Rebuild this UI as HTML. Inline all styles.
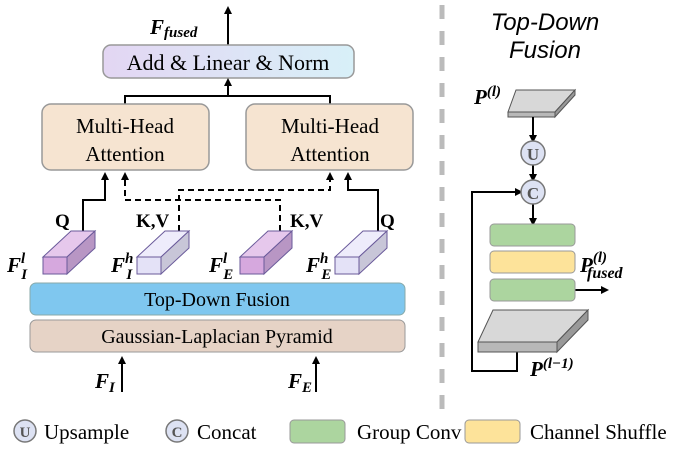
<!DOCTYPE html><html><head><style>html,body{margin:0;padding:0;background:#fff}svg{display:block}</style></head><body>
<svg width="680" height="458" viewBox="0 0 680 458" xmlns="http://www.w3.org/2000/svg" font-family="Liberation Serif, serif">
<defs>
<marker id="a" markerWidth="8" markerHeight="8" refX="4" refY="4" orient="auto" markerUnits="userSpaceOnUse"><path d="M0,0 L8,4 L0,8 z" fill="#000"/></marker>
<linearGradient id="g1" x1="0" x2="1"><stop offset="0" stop-color="#e3d6f3"/><stop offset="1" stop-color="#d8f0f8"/></linearGradient>
</defs>
<text x="150" y="34" font-size="21" font-weight="bold" font-style="italic">F<tspan font-size="15" dy="3">fused</tspan></text>
<line x1="228" y1="45" x2="228" y2="10" stroke="#000" stroke-width="2" marker-end="url(#a)"/>
<rect x="103" y="45" width="251" height="33" rx="8" fill="url(#g1)" stroke="#999" stroke-width="1.5"/>
<text x="228" y="70" font-size="22" text-anchor="middle">Add &amp; Linear &amp; Norm</text>
<path d="M125,104 V96 H330 V104" fill="none" stroke="#000" stroke-width="2"/>
<line x1="228" y1="96" x2="228" y2="82" stroke="#000" stroke-width="2" marker-end="url(#a)"/>
<rect x="42" y="104" width="167" height="66" rx="9" fill="#f6e4d1" stroke="#999" stroke-width="1.5"/>
<rect x="246" y="104" width="167" height="66" rx="9" fill="#f6e4d1" stroke="#999" stroke-width="1.5"/>
<text x="125" y="133" font-size="21" text-anchor="middle">Multi-Head</text>
<text x="125" y="161" font-size="21" text-anchor="middle">Attention</text>
<text x="330" y="133" font-size="21" text-anchor="middle">Multi-Head</text>
<text x="330" y="161" font-size="21" text-anchor="middle">Attention</text>
<g stroke="#000" stroke-width="2" fill="none">
<path d="M83,231 V200 H105 V176" marker-end="url(#a)"/>
<path d="M378,231 V190 H348 V176" marker-end="url(#a)"/>
<path d="M280,231 V200 H125 V176" stroke-dasharray="6,4" marker-end="url(#a)"/>
<path d="M179,231 V190 H330 V176" stroke-dasharray="6,4" marker-end="url(#a)"/>
</g>
<g font-size="19" font-weight="bold">
<text x="55" y="227">Q</text><text x="136" y="227">K,V</text><text x="290" y="227">K,V</text><text x="380" y="227">Q</text>
</g>
<g stroke="#6a5a9a" stroke-width="1">
<g><path d="M43,257 L71,231 L95,231 L67,257z" fill="#e6c8ec"/><path d="M67,257 L95,231 L95,248 L67,274z" fill="#b896c4"/><rect x="43" y="257" width="24" height="17" fill="#d6a8de"/></g>
<g transform="translate(94,0)"><path d="M43,257 L71,231 L95,231 L67,257z" fill="#eeecfb"/><path d="M67,257 L95,231 L95,248 L67,274z" fill="#c8c6d8"/><rect x="43" y="257" width="24" height="17" fill="#e4e2f7"/></g>
<g transform="translate(197,0)"><path d="M43,257 L71,231 L95,231 L67,257z" fill="#e6c8ec"/><path d="M67,257 L95,231 L95,248 L67,274z" fill="#b896c4"/><rect x="43" y="257" width="24" height="17" fill="#d6a8de"/></g>
<g transform="translate(292,0)"><path d="M43,257 L71,231 L95,231 L67,257z" fill="#eeecfb"/><path d="M67,257 L95,231 L95,248 L67,274z" fill="#c8c6d8"/><rect x="43" y="257" width="24" height="17" fill="#e4e2f7"/></g>
</g>
<g font-size="21" font-weight="bold" font-style="italic">
<text x="7" y="272">F<tspan font-size="15" dy="-9">l</tspan><tspan font-size="15" dx="-4" dy="16">I</tspan></text>
<text x="111" y="272">F<tspan font-size="15" dy="-9">h</tspan><tspan font-size="15" dx="-7" dy="16">I</tspan></text>
<text x="209" y="272">F<tspan font-size="15" dy="-9">l</tspan><tspan font-size="15" dx="-4" dy="16">E</tspan></text>
<text x="306" y="272">F<tspan font-size="15" dy="-9">h</tspan><tspan font-size="15" dx="-7" dy="16">E</tspan></text>
</g>
<rect x="30" y="283" width="375" height="32" rx="6" fill="#7fc7ef" stroke="#8aa" stroke-width="1"/>
<text x="217" y="306" font-size="20" text-anchor="middle">Top-Down Fusion</text>
<rect x="30" y="320" width="375" height="32" rx="6" fill="#e6d3c6" stroke="#999" stroke-width="1"/>
<text x="217" y="343" font-size="20" text-anchor="middle">Gaussian-Laplacian Pyramid</text>
<line x1="122" y1="392" x2="122" y2="360" stroke="#000" stroke-width="2" marker-end="url(#a)"/>
<line x1="316" y1="392" x2="316" y2="360" stroke="#000" stroke-width="2" marker-end="url(#a)"/>
<text x="95" y="388" font-size="21" font-weight="bold" font-style="italic">F<tspan font-size="15" dy="4">I</tspan></text>
<text x="288" y="388" font-size="21" font-weight="bold" font-style="italic">F<tspan font-size="15" dy="4">E</tspan></text>
<line x1="442" y1="5" x2="442" y2="410" stroke="#bbb" stroke-width="5" stroke-dasharray="14,12"/>
<g font-family="Liberation Sans, sans-serif" font-style="italic" font-size="24" text-anchor="middle">
<text x="545" y="30">Top-Down</text><text x="545" y="58">Fusion</text></g>
<text x="474" y="104" font-size="21" font-weight="bold" font-style="italic">P<tspan font-size="15" dy="-8">(l)</tspan></text>
<path d="M508,112 L516,90 L575,90 L555,112z" fill="#d8d8d8" stroke="#555"/>
<path d="M508,112 H555 V117 H508z" fill="#b8b8b8" stroke="#555"/>
<path d="M555,112 L575,90 V95 L555,117z" fill="#999" stroke="#555"/>
<g stroke="#000" stroke-width="2" fill="none">
<line x1="533" y1="117" x2="533" y2="139" marker-end="url(#a)"/>
<line x1="533" y1="165" x2="533" y2="178" marker-end="url(#a)"/>
<line x1="533" y1="204" x2="533" y2="222" marker-end="url(#a)"/>
<path d="M517,352 V371 H472 V192 H519" marker-end="url(#a)"/>
<line x1="575" y1="290" x2="605" y2="290" marker-end="url(#a)"/>
</g>
<circle cx="533" cy="153" r="12" fill="#dde2f3" stroke="#777" stroke-width="1.5"/>
<text x="533" y="160" font-size="17" font-weight="bold" fill="#555" text-anchor="middle">U</text>
<circle cx="533" cy="192" r="12" fill="#dde2f3" stroke="#777" stroke-width="1.5"/>
<text x="533" y="199" font-size="17" font-weight="bold" fill="#555" text-anchor="middle">C</text>
<rect x="490" y="224" width="85" height="22" rx="4" fill="#acd59f" stroke="#999"/>
<rect x="490" y="251" width="85" height="22" rx="4" fill="#fde39a" stroke="#999"/>
<rect x="490" y="279" width="85" height="22" rx="4" fill="#acd59f" stroke="#999"/>
<text x="580" y="272" font-size="21" font-weight="bold" font-style="italic">P<tspan font-size="15" dy="-10">(l)</tspan><tspan font-size="16" dx="-20" dy="16">fused</tspan></text>
<path d="M478,342 L493,310 L588,310 L557,342z" fill="#d8d8d8" stroke="#555"/>
<path d="M478,342 H557 V352 H478z" fill="#b8b8b8" stroke="#555"/>
<path d="M557,342 L588,310 V320 L557,352z" fill="#999" stroke="#555"/>
<text x="530" y="376" font-size="21" font-weight="bold" font-style="italic">P<tspan font-size="15" dy="-8">(l−1)</tspan></text>
<circle cx="25" cy="431" r="11" fill="#dde2f3" stroke="#777" stroke-width="1.5"/>
<text x="25" y="437" font-size="15" font-weight="bold" fill="#555" text-anchor="middle">U</text>
<text x="44" y="439" font-size="21">Upsample</text>
<circle cx="177" cy="431" r="11" fill="#dde2f3" stroke="#777" stroke-width="1.5"/>
<text x="177" y="437" font-size="15" font-weight="bold" fill="#555" text-anchor="middle">C</text>
<text x="197" y="439" font-size="21">Concat</text>
<rect x="290" y="420" width="55" height="23" rx="4" fill="#acd59f" stroke="#999"/>
<text x="357" y="439" font-size="21">Group Conv</text>
<rect x="465" y="420" width="55" height="23" rx="4" fill="#fde39a" stroke="#999"/>
<text x="530" y="439" font-size="21">Channel Shuffle</text>
</svg>
</body></html>
